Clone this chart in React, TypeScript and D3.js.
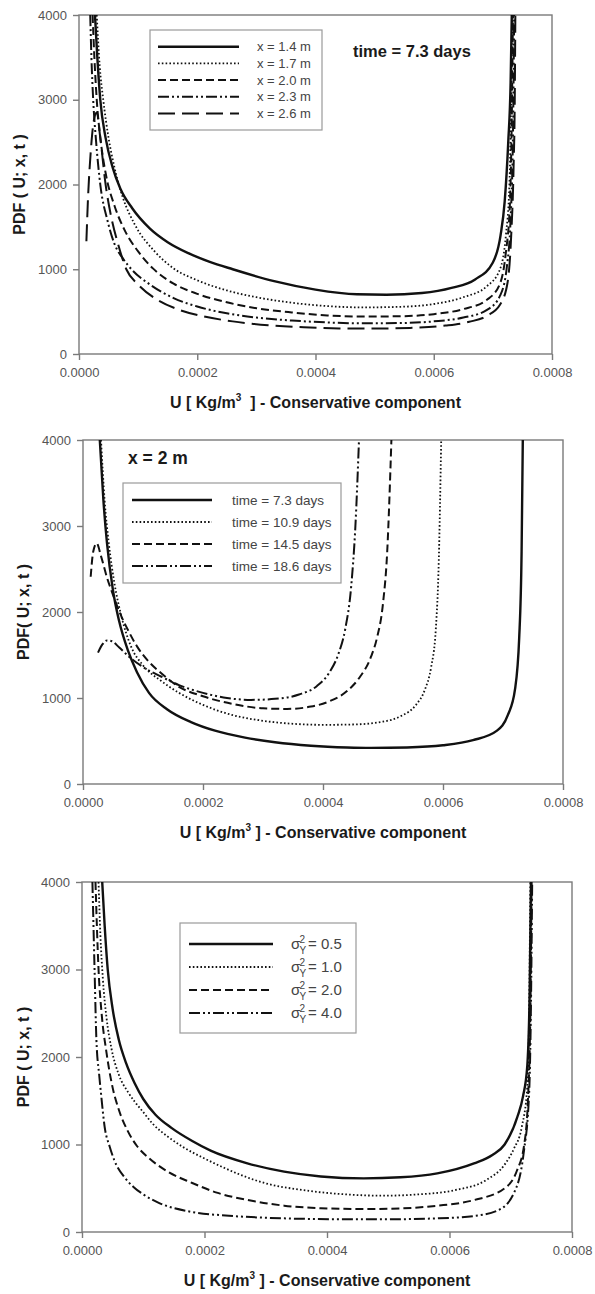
import React, { useEffect, useRef } from 'react';
import { select, scaleLinear, axisLeft, axisBottom, line, curveMonotoneX } from 'd3';

type Pt = [number, number];

const xTicks = [0, 0.0002, 0.0004, 0.0006, 0.0008];
const yTicks = [0, 1000, 2000, 3000, 4000];

// top panel: time = 7.3 days, several distances
const distLabels = ['x = 1.4 m', 'x = 1.7 m', 'x = 2.0 m', 'x = 2.3 m', 'x = 2.6 m'];
const x14: Pt[] = [
  [0.000027, 4000], [0.000031, 3500], [0.000036, 3000], [0.000045, 2550], [0.000057, 2200],
  [0.00007, 1950], [0.00009, 1720], [0.00012, 1480], [0.00015, 1320], [0.000185, 1190],
  [0.00022, 1090], [0.00026, 1000], [0.00033, 860], [0.0004, 760], [0.00047, 705],
  [0.00052, 700], [0.00058, 720], [0.00063, 780], [0.00067, 880], [0.0007, 1080],
  [0.000713, 1400], [0.00072, 1800], [0.000726, 2500], [0.00073, 3200], [0.000732, 4000],
];
const x17: Pt[] = [
  [0.00003, 4000], [0.000035, 3400], [0.000041, 3000], [0.00005, 2550], [0.00006, 2200],
  [0.000074, 1850], [0.000095, 1520], [0.000128, 1210], [0.00016, 1010], [0.0002, 870],
  [0.00025, 750], [0.0003, 670], [0.00036, 605], [0.00042, 565], [0.00048, 550],
  [0.00054, 556], [0.0006, 590], [0.00065, 670], [0.00069, 800], [0.000712, 1000],
  [0.000722, 1400], [0.000728, 2000], [0.000731, 3000], [0.000733, 4000],
];
const x20: Pt[] = [
  [0.000023, 4000], [0.000026, 3500], [0.00003, 3000], [0.000037, 2500], [0.000046, 2100],
  [0.00006, 1750], [0.000078, 1450], [0.0001, 1210], [0.000125, 1010], [0.00016, 830],
  [0.0002, 710], [0.00025, 610], [0.0003, 540], [0.00036, 490], [0.00042, 455],
  [0.00048, 442], [0.00054, 445], [0.0006, 470], [0.00065, 530], [0.00069, 640],
  [0.000712, 830], [0.000722, 1200], [0.000729, 1800], [0.000732, 2800], [0.000734, 4000],
];
const x23: Pt[] = [
  [0.000019, 4000], [0.000021, 3500], [0.000024, 3000], [0.000029, 2500], [0.000036, 2000],
  [0.000048, 1580], [0.00006, 1300], [0.000075, 1120], [0.00009, 990], [0.00012, 820],
  [0.00016, 660], [0.0002, 560], [0.00025, 480], [0.0003, 430], [0.00036, 395],
  [0.00042, 372], [0.00048, 362], [0.00054, 365], [0.0006, 385], [0.00065, 430],
  [0.00069, 520], [0.000713, 700], [0.000724, 1050], [0.00073, 1600], [0.000734, 2600],
  [0.000736, 4000],
];
const x26: Pt[] = [
  [0.0000125, 1330], [0.000015, 1800], [0.00002, 2400], [0.000025, 2750], [0.00003, 2850],
  [0.000036, 2550], [0.000045, 2000], [0.000055, 1600], [0.000066, 1300], [0.00008, 1000],
  [0.0001, 820], [0.00013, 650], [0.00017, 520], [0.00021, 445], [0.00026, 385],
  [0.00032, 340], [0.00038, 315], [0.00044, 302], [0.0005, 300], [0.00056, 308],
  [0.00062, 335], [0.00066, 380], [0.00069, 450], [0.000712, 580], [0.000725, 850],
  [0.000731, 1400], [0.000735, 2200], [0.000737, 3000], [0.000738, 4000],
];

// middle panel: x = 2 m, several times
const timeLabels = ['time = 7.3 days', 'time = 10.9 days', 'time = 14.5 days', 'time = 18.6 days'];
const t73: Pt[] = [
  [0.000028, 4000], [0.000034, 3300], [0.00004, 2800], [0.00005, 2250], [0.00006, 1900],
  [0.000075, 1550], [0.00009, 1300], [0.00011, 1060], [0.00014, 870], [0.00018, 720],
  [0.00022, 620], [0.00027, 540], [0.00032, 485], [0.00038, 445], [0.00044, 425],
  [0.00048, 420], [0.00054, 425], [0.0006, 450], [0.00065, 510], [0.00069, 620],
  [0.000708, 800], [0.00072, 1100], [0.000727, 1700], [0.000731, 2700], [0.000733, 4000],
];
const t109: Pt[] = [
  [0.00003, 4000], [0.000036, 3300], [0.000043, 2800], [0.000052, 2350], [0.000064, 1950],
  [0.00008, 1600], [0.0001, 1380], [0.00013, 1200], [0.00016, 1060], [0.0002, 920],
  [0.00025, 800], [0.0003, 735], [0.00035, 700], [0.0004, 688], [0.00045, 692],
  [0.0005, 725], [0.00053, 790], [0.000555, 920], [0.00057, 1100], [0.00058, 1350],
  [0.000588, 1800], [0.000593, 2600], [0.000597, 4000],
];
const t145: Pt[] = [
  [0.0000128, 2410], [0.000017, 2700], [0.0000228, 2800], [0.00003, 2650], [0.00004, 2400],
  [0.00005, 2200], [0.000062, 1980], [0.000075, 1790], [0.00009, 1600], [0.00011, 1420],
  [0.00013, 1290], [0.00016, 1130], [0.0002, 1020], [0.00025, 930], [0.0003, 880],
  [0.00034, 873], [0.00038, 900], [0.00041, 960], [0.00044, 1080], [0.00046, 1230],
  [0.00048, 1480], [0.00049, 1700], [0.0005, 2100], [0.000507, 2700], [0.000514, 4000],
];
const t186: Pt[] = [
  [0.000025, 1527], [0.000032, 1620], [0.00004, 1670], [0.000048, 1660], [0.00006, 1590],
  [0.00008, 1460], [0.0001, 1360], [0.00013, 1250], [0.00016, 1150], [0.0002, 1060],
  [0.00024, 1000], [0.00028, 978], [0.00032, 990], [0.00036, 1040], [0.00039, 1140],
  [0.00041, 1290], [0.000425, 1500], [0.000437, 1800], [0.000447, 2300], [0.000454, 3000],
  [0.00046, 4000],
];

// bottom panel: variance of log-conductivity
const sigmaLabels = ['0.5', '1.0', '2.0', '4.0'];
const s05: Pt[] = [
  [0.000033, 4000], [0.000037, 3500], [0.000042, 3000], [0.00005, 2550], [0.00006, 2200],
  [0.000072, 1930], [0.000086, 1700], [0.0001, 1520], [0.00012, 1340], [0.000146, 1190],
  [0.00018, 1040], [0.00021, 930], [0.00027, 785], [0.00033, 690], [0.00039, 635],
  [0.00046, 613], [0.00052, 625], [0.00058, 670], [0.00064, 785], [0.00067, 880],
  [0.00069, 1000], [0.000711, 1320], [0.00072, 1550], [0.000727, 1900], [0.000731, 2800],
  [0.000733, 4000],
];
const s10: Pt[] = [
  [0.000027, 4000], [0.00003, 3400], [0.000034, 2900], [0.00004, 2450], [0.000048, 2100],
  [0.00006, 1800], [0.000075, 1600], [0.000086, 1490], [0.0001, 1370], [0.000115, 1240],
  [0.00014, 1090], [0.000164, 975], [0.0002, 840], [0.00023, 740], [0.00026, 650],
  [0.0003, 556], [0.00036, 480], [0.00043, 430], [0.00049, 415], [0.00055, 430],
  [0.00061, 480], [0.00066, 594], [0.00069, 770], [0.000705, 950], [0.000718, 1200],
  [0.000727, 1660], [0.00073, 2500], [0.000732, 4000],
];
const s20: Pt[] = [
  [0.000022, 4000], [0.000027, 3000], [0.000032, 2500], [0.00004, 2050], [0.00005, 1650],
  [0.00006, 1400], [0.000075, 1150], [0.00009, 980], [0.00011, 840], [0.00014, 690],
  [0.00018, 560], [0.00022, 450], [0.00027, 366], [0.00033, 301], [0.00039, 272],
  [0.00046, 263], [0.00052, 270], [0.00058, 300], [0.00064, 365], [0.00069, 500],
  [0.00071, 700], [0.000722, 1000], [0.000728, 1500], [0.000732, 2500], [0.000734, 4000],
];
const s40: Pt[] = [
  [0.000017, 4000], [0.0000205, 3000], [0.0000235, 2200], [0.000028, 1800], [0.000031, 1585],
  [0.000037, 1200], [0.000045, 980], [0.0000526, 823], [0.00007, 620], [0.0000836, 518],
  [0.0001, 430], [0.000127, 328], [0.000177, 232], [0.00024, 186], [0.00033, 156],
  [0.00042, 146], [0.00049, 145], [0.00058, 156], [0.00064, 183], [0.00068, 251],
  [0.000705, 442], [0.000721, 899], [0.00073, 1585], [0.000733, 2600], [0.000735, 4000],
];

const FONT = '"Liberation Sans", Arial, sans-serif';

const styles: Record<string, { dash: string | null; w: number }> = {
  solid: { dash: null, w: 2.4 },
  dotted: { dash: '1.6,2.2', w: 1.8 },
  dashed: { dash: '8,4', w: 2 },
  dashDotDot: { dash: '11,3,2,3,2,3', w: 2 },
  longDash: { dash: '17,7', w: 2 },
};

type Series = { label: string; pts: Pt[]; style: string };
type Panel = {
  left: number; right: number; top: number; bottom: number;
  series: Series[];
  legend: { x: number; y: number; w: number; h: number; l0: number; l1: number; tx: number; row0: number; step: number; fs: number; sigma?: boolean };
  note?: { text: string; x: number; y: number; fs: number };
  yTitle: { text: string; x: number };
  xTitleExtraSpace: boolean;
};

const styleOrder = ['solid', 'dotted', 'dashed', 'dashDotDot', 'longDash'];

const panels: Panel[] = [
  {
    left: 79, right: 552, top: 15, bottom: 354,
    series: [x14, x17, x20, x23, x26].map((pts, i) => ({ label: distLabels[i], pts, style: styleOrder[i] })),
    legend: { x: 150, y: 30, w: 172, h: 100, l0: 158, l1: 239, tx: 257, row0: 46.7, step: 16.7, fs: 13 },
    note: { text: 'time = 7.3 days', x: 353, y: 57, fs: 16.5 },
    yTitle: { text: 'PDF ( U; x, t )', x: 25 },
    xTitleExtraSpace: true,
  },
  {
    left: 83, right: 563, top: 440, bottom: 784,
    series: [t73, t109, t145, t186].map((pts, i) => ({ label: timeLabels[i], pts, style: styleOrder[i] })),
    legend: { x: 123, y: 483, w: 218, h: 100, l0: 132, l1: 212, tx: 232, row0: 500, step: 22, fs: 13.5 },
    note: { text: 'x = 2 m', x: 128, y: 464, fs: 17.5 },
    yTitle: { text: 'PDF( U; x, t )', x: 29 },
    xTitleExtraSpace: false,
  },
  {
    left: 82, right: 572, top: 882, bottom: 1232,
    series: [s05, s10, s20, s40].map((pts, i) => ({ label: sigmaLabels[i], pts, style: styleOrder[i] })),
    legend: { x: 180, y: 923, w: 176, h: 110, l0: 189, l1: 273, tx: 291, row0: 944, step: 23, fs: 15, sigma: true },
    yTitle: { text: 'PDF ( U; x, t )', x: 29 },
    xTitleExtraSpace: false,
  },
];

function App() {
  const svgRef = useRef<SVGSVGElement | null>(null);

  useEffect(() => {
    const svg = select(svgRef.current);
    svg.selectAll('*').remove();

    panels.forEach((p, i) => {
      const x = scaleLinear().domain([0, 0.0008]).range([p.left, p.right]);
      const y = scaleLinear().domain([0, 4000]).range([p.bottom, p.top]);
      const g = svg.append('g');

      svg.append('clipPath').attr('id', `clip${i}`)
        .append('rect')
        .attr('x', p.left).attr('y', p.top - 1)
        .attr('width', p.right - p.left).attr('height', p.bottom - p.top + 2);

      // plot frame
      g.append('rect')
        .attr('x', p.left).attr('y', p.top)
        .attr('width', p.right - p.left).attr('height', p.bottom - p.top)
        .attr('fill', 'none').attr('stroke', '#7a7a7a').attr('stroke-width', 1.4);

      const ya = g.append('g')
        .attr('transform', `translate(${p.left},0)`)
        .call(axisLeft(y).tickValues(yTicks).tickSize(6).tickPadding(6).tickFormat(d => `${d}`));
      const xa = g.append('g')
        .attr('transform', `translate(0,${p.bottom})`)
        .call(axisBottom(x).tickValues(xTicks).tickSize(6).tickPadding(8).tickFormat(d => (+d).toFixed(4)));
      [ya, xa].forEach(a => {
        a.select('.domain').remove();
        a.selectAll('line').attr('stroke', '#7a7a7a').attr('stroke-width', 1.4);
        a.selectAll('text').attr('fill', '#555').attr('font-size', 13).attr('font-family', FONT);
      });

      // curves
      const gen = line<Pt>().x(d => x(d[0])).y(d => y(d[1])).curve(curveMonotoneX);
      const cg = g.append('g').attr('clip-path', `url(#clip${i})`);
      p.series.forEach(s => {
        const st = styles[s.style];
        cg.append('path')
          .attr('d', gen(s.pts))
          .attr('fill', 'none')
          .attr('stroke', '#111')
          .attr('stroke-width', st.w)
          .attr('stroke-dasharray', st.dash)
          .attr('stroke-linejoin', 'round');
      });

      // legend
      const L = p.legend;
      const lg = g.append('g');
      lg.append('rect')
        .attr('x', L.x).attr('y', L.y).attr('width', L.w).attr('height', L.h)
        .attr('fill', '#fff').attr('stroke', '#9a9a9a').attr('stroke-width', 1.2);
      p.series.forEach((s, k) => {
        const st = styles[s.style];
        const ry = L.row0 + k * L.step;
        lg.append('line')
          .attr('x1', L.l0).attr('x2', L.l1).attr('y1', ry).attr('y2', ry)
          .attr('stroke', '#111').attr('stroke-width', st.w)
          .attr('stroke-dasharray', st.dash);
        const t = lg.append('text')
          .attr('x', L.tx).attr('y', ry + L.fs * 0.36)
          .attr('font-family', FONT).attr('font-size', L.fs).attr('fill', '#444');
        if (L.sigma) {
          t.append('tspan').text('σ');
          lg.append('text').attr('x', L.tx + 8.5).attr('y', ry - 1.5)
            .attr('font-family', FONT).attr('font-size', 10).attr('fill', '#444').text('2');
          lg.append('text').attr('x', L.tx + 8.5).attr('y', ry + 10)
            .attr('font-family', FONT).attr('font-size', 10).attr('fill', '#444').text('Y');
          t.append('tspan').attr('x', L.tx + 17).text(`= ${s.label}`);
        } else {
          t.text(s.label);
        }
      });

      if (p.note) {
        g.append('text')
          .attr('x', p.note.x).attr('y', p.note.y)
          .attr('font-family', FONT).attr('font-size', p.note.fs).attr('font-weight', 'bold')
          .attr('fill', '#1a1a1a').text(p.note.text);
      }

      // axis titles
      const cy = (p.top + p.bottom) / 2;
      g.append('text')
        .attr('transform', `translate(${p.yTitle.x},${cy}) rotate(-90)`)
        .attr('text-anchor', 'middle')
        .attr('font-family', FONT).attr('font-size', 16).attr('font-weight', 'bold')
        .attr('fill', '#1a1a1a').text(p.yTitle.text);

      const xt = g.append('text')
        .attr('x', (p.left + p.right) / 2).attr('y', p.bottom + 54)
        .attr('text-anchor', 'middle')
        .attr('font-family', FONT).attr('font-size', 16).attr('font-weight', 'bold')
        .attr('fill', '#1a1a1a').style('white-space', 'pre');
      xt.append('tspan').text('U [ Kg/m');
      xt.append('tspan').attr('font-size', 10).attr('dy', -7).text('3');
      xt.append('tspan').attr('dy', 7).text(p.xTitleExtraSpace ? '  ] - Conservative component' : ' ] - Conservative component');
    });
  }, []);

  return (
    <div>
      <svg ref={svgRef} width={595} height={1294}
        style={{ position: 'absolute', left: 0, top: 0, background: '#fff' }} />
    </div>
  );
}

export default App;
